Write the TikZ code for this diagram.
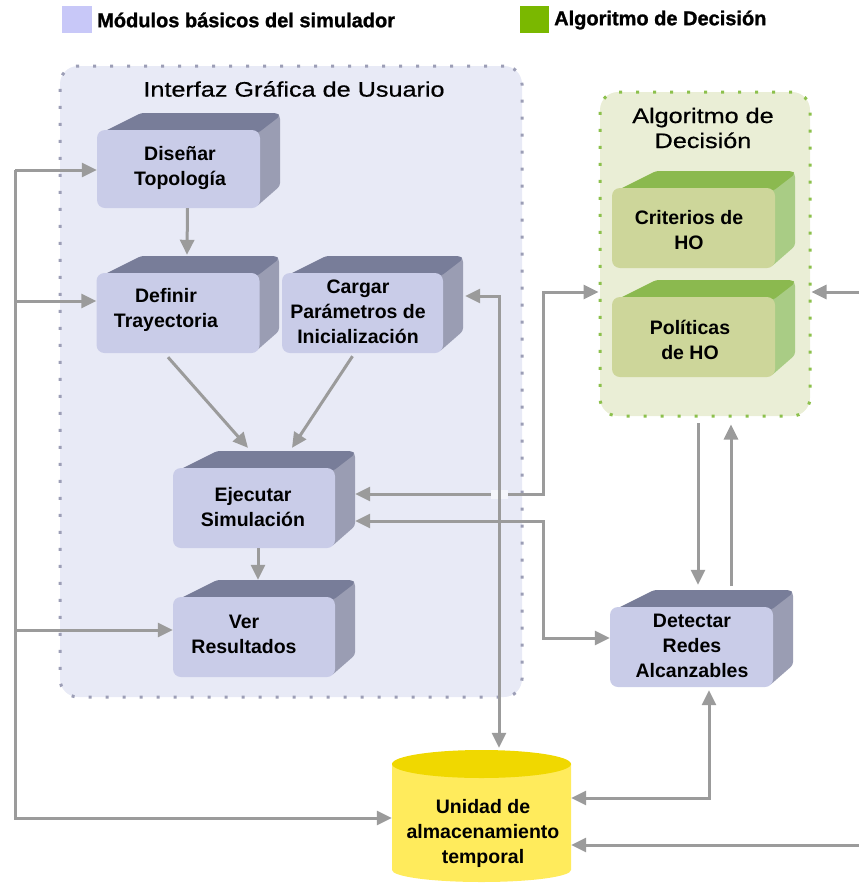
\documentclass[tikz,border=0pt]{standalone}
\usepackage{fontspec}
\setmainfont{Liberation Sans}
\newfontfamily\titlefont[FakeStretch=1.2,FakeBold=0.6]{Liberation Sans}
\newfontfamily\legfont[FakeBold=1.2]{Liberation Sans Bold}
\usetikzlibrary{arrows.meta}
\definecolor{agray}{HTML}{9B9B9B}
\definecolor{guibg}{HTML}{E8EAF6}
\definecolor{guidot}{HTML}{9C9EB6}
\definecolor{bfrontc}{HTML}{C9CCE8}
\definecolor{btopc}{HTML}{787D99}
\definecolor{bsidec}{HTML}{9A9DB3}
\definecolor{algbg}{HTML}{EAEED6}
\definecolor{algdot}{HTML}{8CC04C}
\definecolor{gfrontc}{HTML}{CDD69A}
\definecolor{gtopc}{HTML}{8BB94F}
\definecolor{gsidec}{HTML}{A9CC85}
\definecolor{legblue}{HTML}{C8C8F8}
\definecolor{leggreen}{HTML}{7AB800}
\definecolor{cylbody}{HTML}{FFEB5C}
\definecolor{cyltop}{HTML}{F0D800}
% top and side faces of a 3D box: x1 y1 x2 y2 topcolor sidecolor
\newcommand\tdfaces[6]{%
  \fill[#6,rounded corners=3pt] ({#3-4},{#2+2}) -- ({#3+17},{#2-17}) -- ({#3+20},{#2-14}) -- ({#3+20},{#4-22}) -- ({#3-4},{#4-1}) -- cycle;
  \fill[#5,rounded corners=3pt] ({#1+4},{#2+3}) -- ({#1+44},{#2-17}) -- ({#3+17},{#2-17}) -- ({#3+20},{#2-14}) -- ({#3-2},{#2+3}) -- cycle;
}
\begin{document}
\begin{tikzpicture}[x=1pt,y=-1pt,
  wire/.style={draw=agray, line width=3pt},
  conn/.style={wire, arrows={-Triangle[length=15pt,width=14pt]}},
  both/.style={wire, arrows={Triangle[length=15pt,width=14pt]-Triangle[length=15pt,width=14pt]}},
  bfront/.style={fill=bfrontc, rounded corners=8pt, minimum width=163pt, minimum height=80pt, inner sep=0pt},
  gfront/.style={fill=gfrontc, rounded corners=8pt, minimum width=163pt, minimum height=80pt, inner sep=0pt},
  txt/.style={font=\fontsize{19.5}{25}\selectfont\bfseries, align=center, inner sep=0pt},
  ttl/.style={font=\titlefont\fontsize{21}{25}\selectfont, align=center, inner sep=0pt},
  legtxt/.style={font=\legfont\fontsize{20}{24}\selectfont, anchor=west, inner sep=0pt},
  container/.style={line width=3pt, dash pattern=on 3pt off 14pt, line cap=butt, rounded corners=18pt, inner sep=0pt}
]
\useasboundingbox (0,0) rectangle (859,884);

% legend
\node[fill=legblue, minimum width=30pt, minimum height=27pt, inner sep=0pt] (leg1) at (77,19.5) {};
\node[legtxt] (leg1t) at (97,20) {Módulos básicos del simulador};
\node[fill=leggreen, minimum width=29pt, minimum height=27pt, inner sep=0pt] (leg2) at (534.5,19.5) {};
\node[legtxt] (leg2t) at (554,20) {Algoritmo de Decisión};

% containers
\node[container, fill=guibg, draw=guidot, minimum width=462pt, minimum height=631pt] (gui) at (291,381.5) {};
\node[ttl] (gui-t) at (294,89) {Interfaz Gráfica de Usuario};
\node[container, fill=algbg, draw=algdot, minimum width=210pt, minimum height=324pt] (alg) at (705,254) {};
\node[ttl] (alg-t) at (703,128) {Algoritmo de\\Decisión};

% 3D boxes
\tdfaces{97}{130}{260}{208}{btopc}{bsidec}
\node[bfront, minimum height=78pt] (dis) at (178.5,169) {};
\node[txt] (dis-t) at (180,168) {Diseñar\\Topología};

\tdfaces{97}{273}{259}{353}{btopc}{bsidec}
\node[bfront] (def) at (178,313) {};
\node[txt] (def-t) at (166,310) {Definir\\Trayectoria};

\tdfaces{282}{273}{443}{353}{btopc}{bsidec}
\node[bfront, minimum width=161pt] (car) at (362.5,313) {};
\node[txt] (car-t) at (358,312) {Cargar\\Parámetros de\\Inicialización};

\tdfaces{173}{468}{335}{548}{btopc}{bsidec}
\node[bfront, minimum width=162pt] (eje) at (254,508) {};
\node[txt] (eje-t) at (253,507) {Ejecutar\\Simulación};

\tdfaces{173}{597}{335}{677}{btopc}{bsidec}
\node[bfront, minimum width=162pt] (ver) at (254,637) {};
\node[txt] (ver-t) at (244,634) {Ver\\Resultados};

\tdfaces{612}{188}{775}{268}{gtopc}{gsidec}
\node[gfront] (cri) at (693.5,228) {};
\node[txt] (cri-t) at (689,230) {Criterios de\\HO};

\tdfaces{612}{297}{775}{377}{gtopc}{gsidec}
\node[gfront] (pol) at (693.5,337) {};
\node[txt] (pol-t) at (690,340) {Políticas\\de HO};

\tdfaces{610}{607}{773}{687}{btopc}{bsidec}
\node[bfront] (det) at (691.5,647) {};
\node[txt] (det-t) at (692,646) {Detectar\\Redes\\Alcanzables};

% cylinder
\fill[cylbody] (392,764) -- (392,870) arc[start angle=180,end angle=360,x radius=89.5pt,y radius=12pt] -- (571,764) -- cycle;
\fill[cyltop] (481.5,764) ellipse[x radius=89.5pt, y radius=14pt];
\node[minimum width=179pt, minimum height=132pt, inner sep=0pt] (cyl) at (481.5,816) {};
\node[txt] (cyl-t) at (483,833) {Unidad de\\almacenamiento\\temporal};

% left bus
\coordinate (bus1) at (15,170);
\coordinate (bus2) at (15,301);
\coordinate (bus3) at (15,630);
\coordinate (bus4) at (15,818);
\draw[conn] (bus1) -- (bus1 -| dis.west);
\draw[conn] (bus2) -- (bus2 -| def.west);
\draw[conn] (bus3) -- (bus3 -| ver.west);
\draw[conn] (bus1) -- (bus4) -- (bus4 -| cyl.west);

% inner flow
\draw[conn] ([xshift=9pt]dis.south) -- ([xshift=9pt,yshift=18pt]def.north);
\draw[conn] ([xshift=-10pt,yshift=-4pt]def.south) -- ([xshift=-6pt,yshift=20pt]eje.north);
\draw[conn] ([xshift=-10pt,yshift=-3pt]car.south) -- ([xshift=38pt,yshift=20pt]eje.north);
\draw[conn] ([xshift=4pt]eje.south) -- ([xshift=4pt,yshift=17pt]ver.north);

% Ejecutar <-> Algoritmo
\coordinate (j1) at (543,494);
\coordinate (j2) at (543,292);
\draw[both] ([xshift=20pt]eje.east |- j1) -- (j1) -- (j2) -- (j2 -| alg.west);
\fill[white!55!guibg] (491,490) rectangle (508,499);

% Ejecutar <-> Detectar
\coordinate (k1) at (543,521);
\coordinate (k2) at (543,638);
\draw[both] ([xshift=20pt]eje.east |- k1) -- (k1) -- (k2) -- (k2 -| det.west);

% cylinder <-> Cargar
\coordinate (c1) at (499,296);
\draw[both] ([xshift=17.5pt,yshift=2pt]cyl.north) -- (c1) -- ([xshift=22pt]car.east |- c1);

% Algoritmo <-> Detectar
\coordinate (d1) at (698,423);
\draw[conn] (d1) -- ([yshift=22pt]d1 |- det.north);
\coordinate (u1) at (731,586);
\draw[conn] (u1) -- ([yshift=-7pt]u1 |- alg.south);
\coordinate (r1) at (859,292);
\draw[conn] (r1) -- (r1 -| alg.east);

% cylinder <-> Detectar
\coordinate (m1) at (709,798);
\draw[both] (m1 -| cyl.east) -- (m1) -- ([yshift=-3pt]m1 |- det.south);
\coordinate (r2) at (859,845);
\draw[conn] (r2) -- (r2 -| cyl.east);
\end{tikzpicture}
\end{document}
